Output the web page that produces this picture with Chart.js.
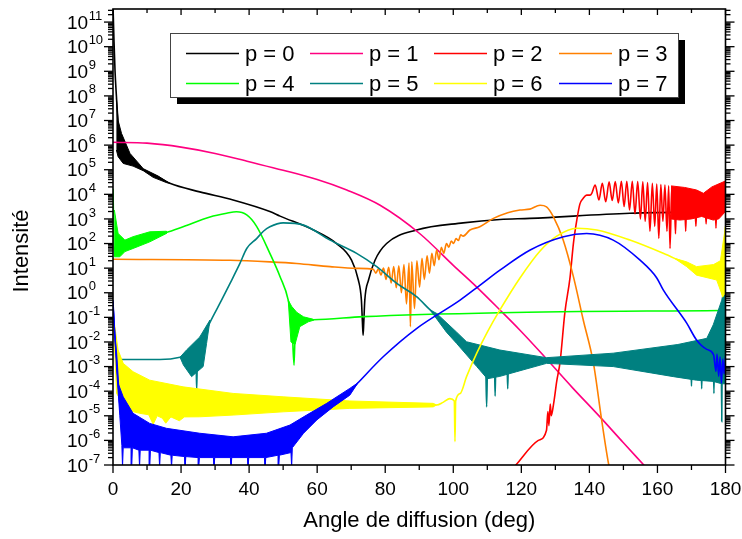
<!DOCTYPE html>
<html>
<head>
<meta charset="utf-8">
<script src="https://cdn.jsdelivr.net/npm/chart.js@4/dist/chart.umd.min.js"></script>
<style>
  html, body { margin: 0; padding: 0; background: #fff; }
  #wrap { width: 742px; height: 539px; position: relative; }
</style>
</head>
<body>
<div id="wrap"><canvas id="grafico"></canvas></div>
<script>
// ---------------------------------------------------------------
// data: [angle (deg), intensity]
// ---------------------------------------------------------------

const xLabels = [0, 20, 40, 60, 80, 100, 120, 140, 160, 180];
const yExponents = [-7, -6, -5, -4, -3, -2, -1, 0, 1, 2, 3, 4, 5, 6, 7, 8, 9, 10, 11];

// p = 0
const p0 = [[0, 5e11], [0.3, 1.6e10], [0.6, 1e9], [1.0, 1e8], [1.5, 8e6], [2.5, 6.3e5], [5, 2.5e5],
  [8.9, 1e5], [13.3, 5e4], [16.7, 2.8e4], [25.5, 1.26e4], [35.3, 5.9e3], [46.1, 2e3], [49.1, 1.3e3],
  [58.9, 355], [65.7, 100], [70.1, 21], [72.1, 3.3], [73.0, 0.5], [73.3, 0.063], [73.5, 0.019],
  [73.7, 0.063], [74.0, 0.5], [75.1, 3.3], [77, 21], [80.4, 100], [89.2, 355], [102.9, 690],
  [113.7, 950], [122.5, 1050], [151.9, 1700], [180, 1950]];
const p0BandUp = [[1.0, 7.9e7], [1.5, 1e7], [2.5, 3e6], [5, 4.6e5], [8.9, 1.1e5], [13.3, 5.5e4], [16.7, 2.8e4]];
const p0BandLow = [[1.0, 6.3e5], [1.5, 3.4e5], [3, 1.8e5], [5.9, 1.4e5], [8.9, 9.1e4], [11.8, 4.9e4], [15.7, 3e4], [16.7, 2.8e4]];

// p = 1
const p1 = [[0, 1.3e6], [10, 1.2e6], [20, 8.3e5], [30, 4.6e5], [40, 2.1e5], [50, 9.5e4], [60, 4e4],
  [68.7, 1.5e4], [78.5, 3.6e3], [90.2, 250], [100, 13], [106.9, 1.7], [113.7, 0.2], [119.6, 0.03],
  [125.5, 4e-3], [135, 1.4e-4], [143.1, 9e-6], [150, 8e-7], [156, 1e-7], [158, 5e-8]];

// p = 2
const p2 = [[118.1, 9e-8], [125, 1e-6], [127.4, 2.6e-6], [127.8, 1.5e-5], [128.1, 4e-6], [128.5, 3e-5],
  [128.8, 1e-5], [129.5, 3.2e-5], [130.4, 2.5e-4], [131.4, 1.6e-3], [132.8, 0.16], [134.3, 4], [135.3, 100],
  [136.3, 890], [137.2, 4e3], [138.2, 6.9e3], [139.2, 9.3e3], [140.2, 9.3e3], [140.7, 1.1e4],
  [141.7, 2.4e4], [142.8, 5.9e3], [143.8, 2.8e4], [144.8, 5e3], [145.8, 3.2e4], [146.7, 5.6e3],
  [147.6, 3.3e4], [148.5, 4.5e3], [149.4, 3.4e4], [150.2, 3.2e3], [151, 3.4e4], [151.8, 2.3e3],
  [152.6, 3.4e4], [153.4, 1.6e3], [154.2, 3.3e4], [155, 1e3], [155.7, 3.2e4], [156.4, 800],
  [157.1, 3e4], [157.8, 316], [158.5, 2.8e4], [159.2, 500], [159.8, 2.6e4], [160.4, 162],
  [161, 2.5e4], [161.6, 800], [162.2, 2.4e4], [162.8, 316], [163.3, 2.2e4], [163.7, 63], [164.2, 2e4],
  [165, 6.3e3], [165.3, 250], [165.6, 6.3e3], [168, 6.3e3], [168.3, 316], [168.6, 6.3e3],
  [171, 4e3], [171.3, 500], [171.6, 4e3], [174, 4e3], [174.3, 630], [174.6, 4e3],
  [177, 4e3], [177.2, 420], [177.4, 4e3], [178.4, 1e4], [180, 3.5e4]];
const p2BandUp = [[164, 2.2e4], [168, 1.9e4], [171.5, 1.5e4], [173.5, 1.1e4], [176, 2e4], [178.4, 2.8e4], [180, 3.5e4]];
const p2BandLow = [[164, 1e3], [166.6, 900], [170, 1e3], [173, 1.26e3], [176.4, 900], [178, 1e3], [180, 2e3]];

// p = 3
const p3 = [[0, 23], [34.4, 21], [46.1, 18], [54, 15.5], [63.8, 11.5], [71.6, 9.8], [76.5, 8.9],
  [77.25, 6.3], [78, 9.5], [78.75, 5.2], [79.5, 10], [80.25, 3.5], [81, 10.7], [81.75, 2.5],
  [82.5, 11.7], [83.25, 1.6], [84, 12.6], [84.75, 1], [85.5, 14], [86.25, 0.35], [87, 16],
  [87.4, 0.042], [87.8, 18], [88.6, 0.23], [89.3, 20], [90.1, 1.7], [90.8, 25], [91.5, 3.5],
  [92.3, 32], [93, 6.3], [93.7, 40], [94.4, 12.6], [95.1, 55], [95.8, 22], [96.5, 71], [97.2, 40],
  [98, 100], [98.7, 71], [99.4, 126], [100.1, 100], [100.8, 158], [101.5, 132], [102.2, 224],
  [102.9, 200], [104.9, 355], [107.8, 480], [111.8, 1050], [116, 1800], [119.6, 2300],
  [122.5, 2500], [125.5, 3600], [127.4, 3100], [129.4, 1230], [132.3, 138], [135.3, 4.5],
  [138.2, 0.078], [141.2, 1.35e-3], [143.6, 6.8e-6], [145.7, 1e-7], [146.2, 5e-8]];

// p = 4
const p4 = [[0, 1.7e4], [0.4, 30], [1.2, 200], [2, 40], [3.5, 90], [5, 112], [10, 200], [15.7, 280],
  [20.6, 480], [28.5, 1.2e3], [33.4, 1.7e3], [36.3, 1.95e3], [39.3, 1.45e3], [42.2, 500], [46.1, 40],
  [49.1, 4.5], [51.5, 0.5], [52.6, 0.05], [53.2, 1.15e-3], [53.6, 0.05], [55, 0.09], [58.9, 0.08],
  [73.5, 0.107], [113.7, 0.155], [178.5, 0.19]];
const p4BandUp1 = [[0.4, 2.3e3], [1.5, 257], [3.5, 138], [5.9, 190], [10.8, 300], [15.7, 316]];
const p4BandLow1 = [[0.4, 29], [2, 29], [3.5, 47], [5.9, 63], [10.8, 117], [15.7, 257]];
const p4BandUp2 = [[51.5, 0.5], [52.5, 0.28], [54, 0.16], [56, 0.105], [58.9, 0.083]];
const p4BandLow2 = [[51.5, 0.5], [52.3, 0.01], [53.5, 8e-3], [54.9, 0.042], [57.4, 0.066], [58.9, 0.076]];

// p = 5
const p5 = [[1.5, 1.95e-3], [13.8, 1.95e-3], [19.7, 2.4e-3], [22, 3.2e-3], [24.4, 2e-3], [24.6, 1.1e-4],
  [24.8, 3e-3], [25.5, 7.9e-3], [28.5, 0.063], [31.9, 0.5], [34.4, 2.4], [37.3, 15.5], [39.3, 63],
  [42.2, 158], [44.2, 316], [46.1, 480], [50, 690], [56, 560], [63.8, 138], [71.6, 40], [77.5, 11.5],
  [83.4, 2.4], [89.2, 0.69], [93.2, 0.2], [98, 0.05], [101, 0.014], [104, 5e-3], [109.5, 1.6e-3],
  [109.8, 2.3e-5], [110.1, 1.6e-3], [112.1, 1.26e-3], [112.3, 6.3e-5], [112.5, 1.26e-3],
  [115.8, 1.26e-3], [116, 1.26e-4], [116.2, 1.26e-3], [127.4, 1.8e-3], [147, 2e-3], [166, 2e-3],
  [169.8, 1.6e-3], [170, 1.6e-4], [170.2, 1.6e-3], [172.8, 2e-3], [173, 1.26e-4], [173.2, 2e-3],
  [176.4, 3.2e-3], [176.6, 8.1e-5], [176.8, 4e-3], [178.7, 0.032], [178.9, 5.8e-6], [179.1, 0.1],
  [179.4, 0.5], [180, 3.3]];
const p5BandUp1 = [[19.7, 2.4e-3], [21.6, 4.7e-3], [25.5, 0.016], [28.5, 0.078]];
const p5BandLow1 = [[19.7, 2.4e-3], [20.7, 1.15e-3], [23.1, 3.9e-4], [26.5, 1e-3], [27.5, 8.7e-3], [28.5, 0.078]];
const p5BandUp2 = [[93.2, 0.2], [95.1, 0.145], [101, 0.025], [103.9, 0.0102], [113.7, 4.7e-3],
  [127.4, 2.3e-3], [147, 3.5e-3], [166, 7.9e-3], [174.5, 0.014], [176.4, 0.05], [178.9, 0.5], [180, 3.3]];
const p5BandLow2 = [[93.2, 0.2], [98, 0.025], [101, 8.7e-3], [106.9, 1e-3], [110, 3.2e-4], [113.7, 4e-4],
  [118.6, 6.2e-4], [127.4, 1.35e-3], [147, 1e-3], [164.7, 3.9e-4], [171.5, 2.8e-4], [176.4, 2.5e-4],
  [178.9, 2e-4], [180, 2e-4]];

// p = 6
const p6 = [[0, 0.145], [1, 3e-3], [3, 1.6e-4], [10, 6.3e-5], [20, 3.5e-5], [35, 3.2e-5], [50, 3.2e-5],
  [70, 2.8e-5], [95.1, 2.75e-5], [97, 3.5e-5], [99, 5e-5], [100.3, 4e-5], [100.5, 8.9e-7], [100.7, 4e-5],
  [102, 8e-5], [103.9, 3.9e-4], [106.9, 3.5e-3], [110, 0.025], [113.7, 0.2], [119.6, 4], [125.5, 50],
  [130.4, 200], [136.3, 420], [142.2, 355], [151.9, 138], [161.7, 40], [165, 25], [168.6, 14.5],
  [171.5, 8], [177.4, 7], [179, 1], [179.2, 0.69], [179.6, 10], [180, 500]];
const p6BandUp1 = [[0, 0.145], [1.5, 4.7e-3], [3, 1.35e-3], [5.9, 6.2e-4], [10.8, 2.8e-4], [20.6, 1.5e-4],
  [35.3, 8.1e-5], [50, 5.9e-5], [69.6, 4e-5], [94.1, 3.2e-5], [95.1, 2.75e-5]];
const p6BandLow1 = [[0, 0.145], [1.06, 8.1e-5], [4, 1.7e-5], [7.9, 1.26e-5], [10.5, 1.1e-5], [11.8, 4.5e-6],
  [13, 1e-5], [14.5, 8e-6], [15.5, 5e-6], [17, 9e-6], [19.5, 6.3e-6], [21, 9e-6], [25.5, 9.1e-6],
  [35.3, 1.07e-5], [50, 1.45e-5], [69.6, 2e-5], [94.1, 2.3e-5], [95.1, 2.75e-5]];
const p6BandUp2 = [[165, 25], [168.6, 18], [171.5, 11.5], [176.5, 14], [178.5, 20], [180, 500]];
const p6BandLow2 = [[165, 25], [168.6, 11.5], [171.5, 5.2], [177.4, 3.3], [179.2, 0.69], [180, 1]];

// p = 7
const p7 = [[0, 0.43], [0.5, 0.02], [1, 3.2e-3], [2, 3.2e-5], [3, 5e-6], [10, 1.6e-6], [20, 8e-7],
  [35, 6.3e-7], [45, 8e-7], [52, 1.26e-6], [56, 5e-6], [60, 1.1e-5], [64.7, 3.4e-5], [69.6, 1e-4],
  [72, 2.2e-4], [79.4, 2.5e-3], [89.2, 0.035], [102, 0.5], [107.8, 2], [113.7, 8.3], [122.6, 55],
  [132.4, 190], [139.2, 257], [147, 138], [154.9, 21], [159.8, 4], [161.7, 1.3], [168.6, 0.058],
  [171.5, 0.012], [174.5, 5e-3], [176.5, 3e-3], [177.2, 6.3e-4], [177.5, 3.2e-3], [178, 4e-4],
  [178.4, 2.5e-3], [178.8, 2.1e-4], [179.2, 2e-3], [179.6, 5e-4], [180, 2.5e-3]];
const p7BandUp = [[0, 0.5], [0.56, 0.022], [1.5, 2.1e-4], [3, 5.9e-5], [5.9, 1.26e-5], [10.8, 4.9e-6],
  [15.7, 3.1e-6], [25.5, 1.95e-6], [35.3, 1.4e-6], [45.1, 1.95e-6], [52, 4.2e-6], [56.9, 1.07e-5],
  [62.8, 3.2e-5], [69.6, 1.3e-4], [72, 2.2e-4]];
const p7BandLow = [[0, 0.5], [1, 1e-3], [2, 1e-5], [2.6, 6.3e-7], [2.8, 8e-8], [3.0, 5e-7], [5.3, 5e-7],
  [5.5, 8e-8], [5.7, 5e-7], [7.6, 4e-7], [7.8, 8e-8], [8.0, 4e-7], [10.6, 4e-7], [10.8, 8e-8],
  [11, 4e-7], [13.5, 3.2e-7], [13.7, 8e-8], [13.9, 3.2e-7], [17, 2.5e-7], [17.2, 8e-8], [17.4, 2.5e-7],
  [21, 2.2e-7], [21.2, 8e-8], [21.4, 2.2e-7], [25, 2e-7], [25.2, 8e-8], [25.4, 2e-7], [29.5, 2e-7],
  [29.7, 8e-8], [29.9, 2e-7], [34.5, 2e-7], [34.7, 8e-8], [34.9, 2e-7], [39.5, 2e-7], [39.7, 8e-8],
  [39.9, 2e-7], [44.5, 2e-7], [44.7, 8e-8], [44.9, 2e-7], [48.5, 2.5e-7], [48.7, 8e-8], [48.9, 2.5e-7],
  [52.3, 3.2e-7], [52.5, 8e-8], [52.7, 5e-7], [56, 1.95e-6], [59.9, 6.8e-6], [64.7, 2.3e-5],
  [69.6, 6.9e-5], [72, 2.2e-4]];

// ---------------------------------------------------------------
// datasets
// ---------------------------------------------------------------

const series = [
    { label: 'p = 0', color: '#000000', data: p0, bands: [[p0BandUp, p0BandLow]] },
    { label: 'p = 1', color: '#ff0080', data: p1, bands: [] },
    { label: 'p = 2', color: '#ff0000', data: p2, bands: [[p2BandUp, p2BandLow]] },
    { label: 'p = 3', color: '#ff8000', data: p3, bands: [] },
    { label: 'p = 4', color: '#00ff00', data: p4, bands: [[p4BandUp1, p4BandLow1], [p4BandUp2, p4BandLow2]] },
    { label: 'p = 5', color: '#008080', data: p5, bands: [[p5BandUp1, p5BandLow1], [p5BandUp2, p5BandLow2]] },
    { label: 'p = 6', color: '#ffff00', data: p6, bands: [[p6BandUp1, p6BandLow1], [p6BandUp2, p6BandLow2]] },
    { label: 'p = 7', color: '#0000ff', data: p7, bands: [[p7BandUp, p7BandLow]] }
];

const toXY = pts => pts.map(([x, y]) => ({ x, y }));

// dense oscillations: the band between the upper and lower envelope, drawn as one closed shape
const toShape = (up, low) => toXY(up.concat(low.slice().reverse()));

const datasets = [];

series.forEach((s, i) => {

    datasets.push({
        label: s.label,
        data: toXY(s.data),
        borderColor: s.color,
        backgroundColor: s.color,
        borderWidth: 1.6,
        pointRadius: 0,
        fill: false,
        cubicInterpolationMode: 'monotone',
        order: 7 - i
    });

    s.bands.forEach(([up, low]) => {
        datasets.push({
            label: '',
            data: toShape(up, low),
            borderColor: s.color,
            backgroundColor: s.color,
            borderWidth: 1,
            pointRadius: 0,
            fill: 'shape',
            tension: 0,
            order: 7 - i
        });
    });

});

const FONT = "'Liberation Sans', Arial, sans-serif";

/*
=====================================
AXES (frame, ticks, labels, titles)
=====================================
*/

const axesPlugin = {
    id: 'axesPlugin',
    afterDatasetsDraw(chart) {

        const { ctx, chartArea: a, scales: { x, y } } = chart;

        const seg = (x1, y1, x2, y2) => {
            ctx.beginPath();
            ctx.moveTo(x1, y1);
            ctx.lineTo(x2, y2);
            ctx.stroke();
        };

        ctx.save();
        ctx.strokeStyle = '#000';
        ctx.fillStyle = '#000';

        // x ticks every 10 deg, labels every 20
        ctx.lineWidth = 1.3;
        for (let v = 0; v <= 180; v += 10) {
            const px = x.getPixelForValue(v);
            const major = xLabels.includes(v);
            seg(px, a.bottom, px, a.bottom + (major ? 8 : 5));
            seg(px, a.top, px, a.top + (major ? 6 : 4));
        }

        ctx.font = '19px ' + FONT;
        ctx.textAlign = 'center';
        ctx.textBaseline = 'middle';
        xLabels.forEach(v => ctx.fillText(String(v), x.getPixelForValue(v), a.bottom + 25));

        // y ticks: decades and 2..9 in between
        const yMax = y.max;
        yExponents.forEach(e => {
            for (let m = 1; m <= 9; m++) {
                const v = m * Math.pow(10, e);
                if (v > yMax) break;
                const py = y.getPixelForValue(v);
                const len = m === 1 ? 9 : 5;
                seg(a.left, py, a.left - len, py);
                seg(a.right, py, a.right + len, py);
            }
        });

        ctx.textAlign = 'left';
        yExponents.forEach(e => {
            const py = y.getPixelForValue(Math.pow(10, e));
            ctx.font = '19px ' + FONT;
            ctx.fillText('10', 67, py + 1.5);
            const w = ctx.measureText('10').width;
            ctx.font = '13px ' + FONT;
            ctx.fillText(String(e), 67 + w + 0.5, py - 6);
        });

        // frame
        ctx.lineWidth = 1.6;
        ctx.strokeRect(a.left, a.top, a.right - a.left, a.bottom - a.top);

        // titles
        ctx.font = '22px ' + FONT;
        ctx.textAlign = 'center';
        ctx.fillText('Angle de diffusion (deg)', (a.left + a.right) / 2, 521);

        ctx.save();
        ctx.translate(22, 251);
        ctx.rotate(-Math.PI / 2);
        ctx.fillText('Intensité', 0, 0);
        ctx.restore();

        ctx.restore();
    }
};

/*
=====================================
LEGEND (boxed, 4 columns, shadow)
=====================================
*/

const legendPlugin = {
    id: 'legendPlugin',
    afterDraw(chart) {

        const { ctx } = chart;
        const box = { x: 170, y: 33, w: 508, h: 64 };
        const cols = [186, 310, 434, 559];
        const rows = [53.5, 83.5];

        ctx.save();

        ctx.fillStyle = '#000';
        ctx.fillRect(box.x + 7, box.y + 7, box.w, box.h);
        ctx.fillStyle = '#fff';
        ctx.fillRect(box.x, box.y, box.w, box.h);
        ctx.strokeStyle = '#444';
        ctx.lineWidth = 1;
        ctx.strokeRect(box.x + 0.5, box.y + 0.5, box.w, box.h);

        ctx.font = '22px ' + FONT;
        ctx.textAlign = 'left';
        ctx.textBaseline = 'middle';

        series.forEach((s, i) => {
            const cx = cols[i % 4];
            const cy = rows[Math.floor(i / 4)];
            ctx.strokeStyle = s.color;
            ctx.lineWidth = 1.5;
            ctx.beginPath();
            ctx.moveTo(cx, cy);
            ctx.lineTo(cx + 53, cy);
            ctx.stroke();
            ctx.fillStyle = '#000';
            ctx.fillText(s.label, cx + 59, cy + 1);
        });

        ctx.restore();
    }
};

new Chart(document.getElementById('grafico'), {

    type: 'line',

    data: { datasets },

    options: {
        responsive: true,
        maintainAspectRatio: false,
        devicePixelRatio: 1,
        animation: false,
        events: [],
        layout: { padding: { top: 9, right: 16.5, bottom: 0, left: 0 } },
        plugins: {
            legend: { display: false },
            tooltip: { enabled: false }
        },
        scales: {
            x: {
                type: 'linear',
                min: 0,
                max: 180,
                grid: { display: false },
                border: { display: false },
                ticks: { display: false },
                afterFit: s => { s.height = 74; }
            },
            y: {
                type: 'logarithmic',
                min: 1e-7,
                max: 3.4e11,
                grid: { display: false },
                border: { display: false },
                ticks: { display: false },
                afterFit: s => { s.width = 113; }
            }
        }
    },

    plugins: [axesPlugin, legendPlugin]

});
</script>
</body>
</html>
